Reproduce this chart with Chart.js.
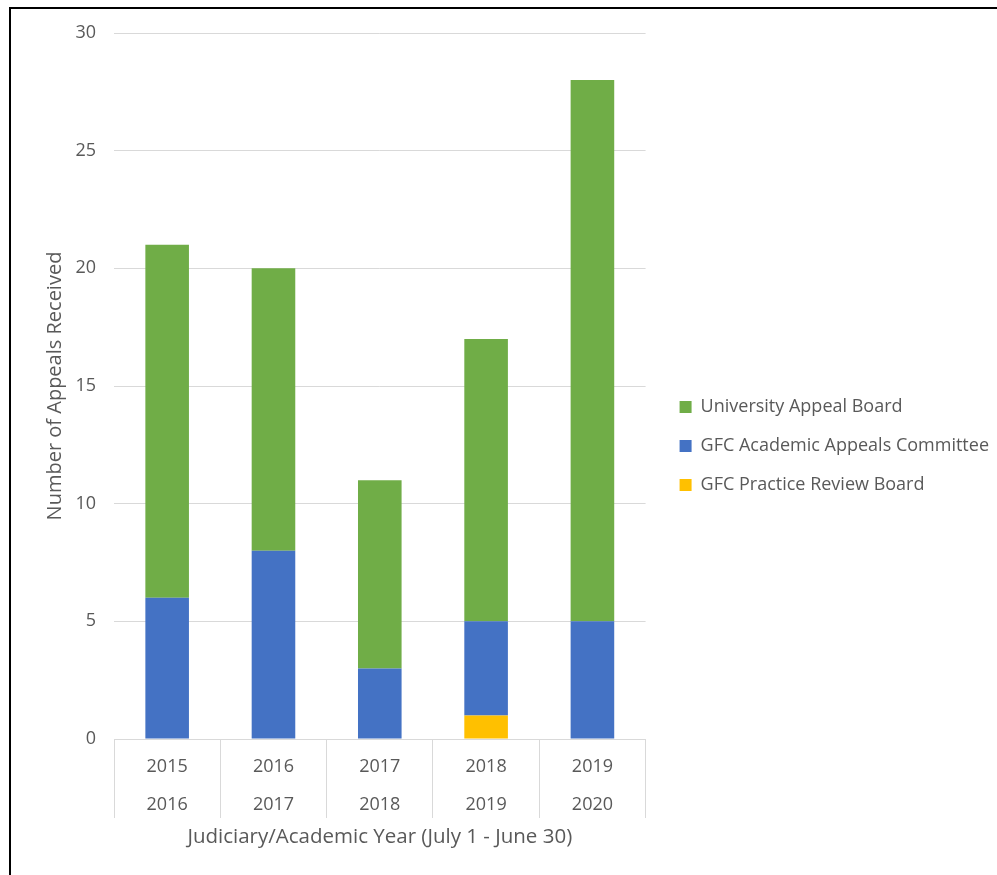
<!DOCTYPE html>
<html>
<head>
<meta charset="utf-8">
<script src="https://cdn.jsdelivr.net/npm/chart.js@4"></script>
<style>
    body { margin: 0; background: #fff; }
    #frame {
        position: absolute; left: 9px; top: 7px;
        width: 988px; height: 868px;
        border-left: 2px solid #000; border-top: 2px solid #000;
    }
    #wrap { position: relative; width: 986px; height: 866px; }
</style>
</head>
<body>
<div id="frame"><div id="wrap"><canvas id="appealsChart"></canvas></div></div>
<script>
// --- Data ---
const years = [['2015', '2016'], ['2016', '2017'], ['2017', '2018'], ['2018', '2019'], ['2019', '2020']];
const practiceReview = [0, 0, 0, 1, 0];
const academicAppeals = [6, 8, 3, 4, 5];
const universityAppeal = [15, 12, 8, 12, 23];
const yTicks = [0, 5, 10, 15, 20, 25, 30];

const textColor = '#595959';
const gridColor = '#d9d9d9';
const font = { family: "'Open Sans', sans-serif", size: 18 };

// nudge the legend a little right / down so it sits like the original
const legendNudge = {
    id: 'legendNudge',
    afterLayout: function (chart) {
        const lg = chart.legend;
        if (!lg) return;
        lg.left += 13; lg.right += 13;
        lg.top += 3; lg.bottom += 3;
    }
};

// stack from the bottom: yellow, blue, green (legend is reversed)
const ctx = document.getElementById('appealsChart').getContext('2d');
new Chart(ctx, {
    type: 'bar',
    data: {
        labels: years,
        datasets: [
            { label: 'GFC Practice Review Board', data: practiceReview, backgroundColor: '#ffc000' },
            { label: 'GFC Academic Appeals Committee', data: academicAppeals, backgroundColor: '#4472c4' },
            { label: 'University Appeal Board', data: universityAppeal, backgroundColor: '#70ad47' }
        ]
    },
    options: {
        responsive: true,
        maintainAspectRatio: false,
        animation: false,
        categoryPercentage: 0.41,
        barPercentage: 1,
        layout: { padding: { top: 24, left: 28, right: 11, bottom: 22 } },
        plugins: {
            tooltip: { enabled: false },
            legend: {
                position: 'right',
                reverse: true,
                maxWidth: 400,
                labels: { color: textColor, font: font, boxWidth: 12, boxHeight: 12, padding: 21 }
            }
        },
        scales: {
            x: {
                stacked: true,
                offset: true,
                grid: { offset: true, drawOnChartArea: false, tickLength: 79, color: gridColor },
                border: { color: gridColor },
                ticks: { color: textColor, font: { family: font.family, size: 18, lineHeight: 2.1 }, padding: -70, maxRotation: 0 },
                title: { display: true, text: 'Judiciary/Academic Year (July 1 - June 30)', color: textColor, font: { family: font.family, size: 20.5 }, padding: { top: 4, bottom: 4 } },
                afterFit: function (axis) { axis.height = 114; }
            },
            y: {
                stacked: true,
                min: 0,
                max: 30,
                afterBuildTicks: function (axis) {
                    axis.ticks = yTicks.map(function (v) { return { value: v }; });
                },
                grid: { color: gridColor, drawTicks: false },
                border: { display: false },
                ticks: { color: textColor, font: font, padding: 18 },
                title: { display: true, text: 'Number of Appeals Received', color: textColor, font: { family: font.family, size: 20 }, padding: { top: 4, bottom: 4 } },
                afterFit: function (axis) {
                    axis.width = 75;
                    axis.paddingTop = 0;
                    axis.paddingBottom = 0;
                }
            }
        }
    },
    plugins: [legendNudge]
});
</script>
</body>
</html>
